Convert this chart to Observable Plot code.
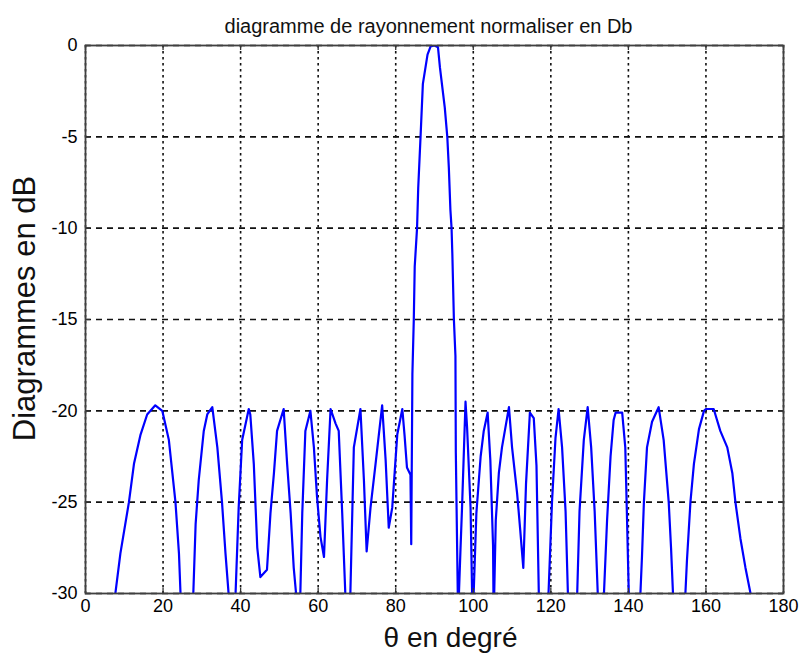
<!DOCTYPE html>
<html><head><meta charset="utf-8">
<script src="https://cdn.jsdelivr.net/npm/d3@7"></script>
<script src="https://cdn.jsdelivr.net/npm/@observablehq/plot@0.6"></script>
<style>body{margin:0;background:#fff}</style>
</head><body><div id="chart"></div>
<script>
const titleText = "diagramme de rayonnement normaliser en Db";
const xLabelText = "θ en degré";
const yLabelText = "Diagrammes en dB";
const xTicks = [0, 20, 40, 60, 80, 100, 120, 140, 160, 180];
const yTicks = [0, -5, -10, -15, -20, -25, -30];

const thetaDeg = [
  5,
  7.7, 9, 11.2, 12.5, 14.2, 15.9, 18, 19.8, 21.5, 23.2, 24.1, 24.5,
  26,
  27.8, 28.4, 29.2, 30.5, 31.4, 32.7, 34, 35.2, 36.1, 36.9,
  37.8,
  38.7, 39.5, 40.4, 42.1, 42.5, 43.4, 44.3, 45.1, 46.8, 47.7, 48.6, 49.4, 51.1, 52, 52.9, 53.7, 54.3,
  54.85,
  55.4, 55.9, 56.7, 58, 58.9, 59.7, 60.6, 61.5, 62.3, 63.2, 64.5, 65.3, 66.2, 67,
  67.6,
  68.3, 69.2, 70.9, 71.8, 72.5, 73.5, 74.8, 76.5, 77.4, 78.2, 79.1, 80.4, 81.7, 82.3, 82.9, 83.8, 84,
  84.3, 84.66, 84.9, 85.5, 85.8, 86.4, 87, 88.2, 89, 90, 90.9, 91.4, 92.65, 93.3, 93.7, 94.1, 94.4, 94.6, 95, 95.4, 95.5, 96,
  96.15,
  96.3, 96.7, 97.1, 98, 98.4, 99.3, 99.7,
  99.9,
  100.1, 100.8, 101.9, 102.7, 103.7, 104.4, 105.1, 105.2,
  105.3,
  105.4, 105.8, 106.6, 107.4, 109.2, 110, 111.3, 112.1, 112.9, 113.6, 114.6, 115.6, 116.3, 116.9,
  118.1,
  119.4, 120.3, 121.2, 122, 122.9, 123.8, 124.4,
  125.6,
  126.8, 127.4, 128.5, 129.5, 130.4, 131.3, 132.1,
  132.9,
  133.7, 134.5, 135.4, 136.2, 136.7, 138.4, 139.2, 139.6, 140.1,
  141.6,
  143.1, 143.5, 144, 144.8, 146.1, 147.8, 149.1, 150.4, 151, 151.5,
  153.1,
  154.7, 155.1, 156, 156.9, 158.2, 159.5, 160, 162, 163.7, 165.5, 166.8, 167.6, 168.9, 170.2, 171.5,
  175
];
const gainDb = [
  -45,
  -30, -27.8, -25, -22.9, -21.3, -20.2, -19.7, -20, -21.6, -25, -27.8, -30,
  -45,
  -30, -26.2, -23.8, -21.1, -20.2, -19.8, -22, -25, -27.8, -30,
  -45,
  -30, -25.3, -21.6, -19.9, -20.2, -22.9, -27.5, -29.1, -28.7, -25.6, -23.4, -21.1, -19.9, -22.9, -25.6, -28.6, -30,
  -45,
  -30, -25.6, -21.1, -20, -22, -24.7, -26.9, -28, -23.8, -19.9, -20.7, -21.1, -25.6, -30,
  -45,
  -30, -22, -19.9, -23.8, -27.7, -25.3, -22.9, -19.7, -22.7, -26.4, -25.3, -21.3, -19.9, -21.4, -23.1, -23.5, -27.3,
  -18, -15, -12.1, -10, -7.8, -5, -2.1, -0.5, -0.05, 0, -0.1, -1.2, -3.4, -5, -6.7, -9, -10, -11.4, -15, -17, -22.3, -30,
  -45,
  -30, -27.6, -25.3, -19.5, -20.9, -25.3, -30,
  -45,
  -30, -25.6, -22.5, -21.1, -20.1, -22.7, -27.4, -30,
  -45,
  -30, -26, -23.4, -22, -19.8, -22, -24.5, -26.5, -28.6, -24, -20.1, -20.4, -23, -30,
  -45,
  -30, -25, -21.5, -19.9, -22, -25.5, -30,
  -45,
  -30, -25.5, -21.6, -19.8, -22, -25.5, -30,
  -45,
  -30, -26, -22.5, -20.5, -20.1, -20.1, -22, -25.5, -30,
  -45,
  -30, -28, -25, -22, -20.6, -19.8, -21.6, -25, -27.5, -30,
  -45,
  -30, -28.2, -25, -22.9, -21, -20, -19.9, -19.9, -21.1, -22, -23.4, -25, -27, -28.6, -30,
  -45
];

const data = thetaDeg.map((t, i) => ({theta: t, db: gainDb[i]}));

const W = 803, H = 664, mL = 85, mR = 20, mT = 45, mB = 71;
const fw = W - mL - mR, fh = H - mT - mB;
const font = "'Liberation Sans', Arial, Helvetica, sans-serif";
const gridColor = "#111";

const chart = Plot.plot({
  width: W, height: H,
  marginLeft: mL, marginRight: mR, marginTop: mT, marginBottom: mB,
  style: {fontFamily: font, background: "#fff", color: "#000"},
  x: {domain: [0, 180], label: null},
  y: {domain: [-30, 0], label: null},
  marks: [
    Plot.ruleX(xTicks, {x: d => d, stroke: gridColor, strokeWidth: 1.6, strokeDasharray: "2.5,3.5"}),
    Plot.ruleY(yTicks, {y: d => d, stroke: gridColor, strokeWidth: 1.6, strokeDasharray: "6,5"}),
    Plot.line(data, {x: "theta", y: "db", stroke: "#0000ff", strokeWidth: 2.2, clip: true}),
    // inward tick marks on all four sides
    Plot.ruleX(xTicks, {x: d => d, stroke: "#333", strokeWidth: 1.3, insetTop: fh - 5}),
    Plot.ruleX(xTicks, {x: d => d, stroke: "#333", strokeWidth: 1.3, insetBottom: fh - 5}),
    Plot.ruleY(yTicks, {y: d => d, stroke: "#333", strokeWidth: 1.3, insetRight: fw - 5}),
    Plot.ruleY(yTicks, {y: d => d, stroke: "#333", strokeWidth: 1.3, insetLeft: fw - 5}),
    Plot.frame({stroke: "#404040", strokeWidth: 1.8}),
    Plot.axisX({ticks: xTicks, tickFormat: d => String(d), tickSize: 0, tickPadding: 6, fontSize: 18, label: null, style: {letterSpacing: "0.5px"}}),
    Plot.axisY({ticks: yTicks, tickFormat: d => String(d), tickSize: 0, tickPadding: 8, fontSize: 18, label: null, style: {letterSpacing: "0.5px"}}),
    Plot.text([titleText], {text: d => d, frameAnchor: "top", dx: -6, dy: -27, fontSize: 20, fill: "#111", style: {letterSpacing: "0.4px"}}),
    Plot.text([xLabelText], {text: d => d, frameAnchor: "bottom", dx: 16, dy: 53, fontSize: 28, fill: "#111"}),
    Plot.text([yLabelText], {text: d => d, frameAnchor: "left", textAnchor: "middle", dx: -60, dy: -11, rotate: -90, fontSize: 31, fill: "#111", style: {letterSpacing: "1.2px"}})
  ]
});
document.getElementById("chart").appendChild(chart);
</script>
</body></html>
